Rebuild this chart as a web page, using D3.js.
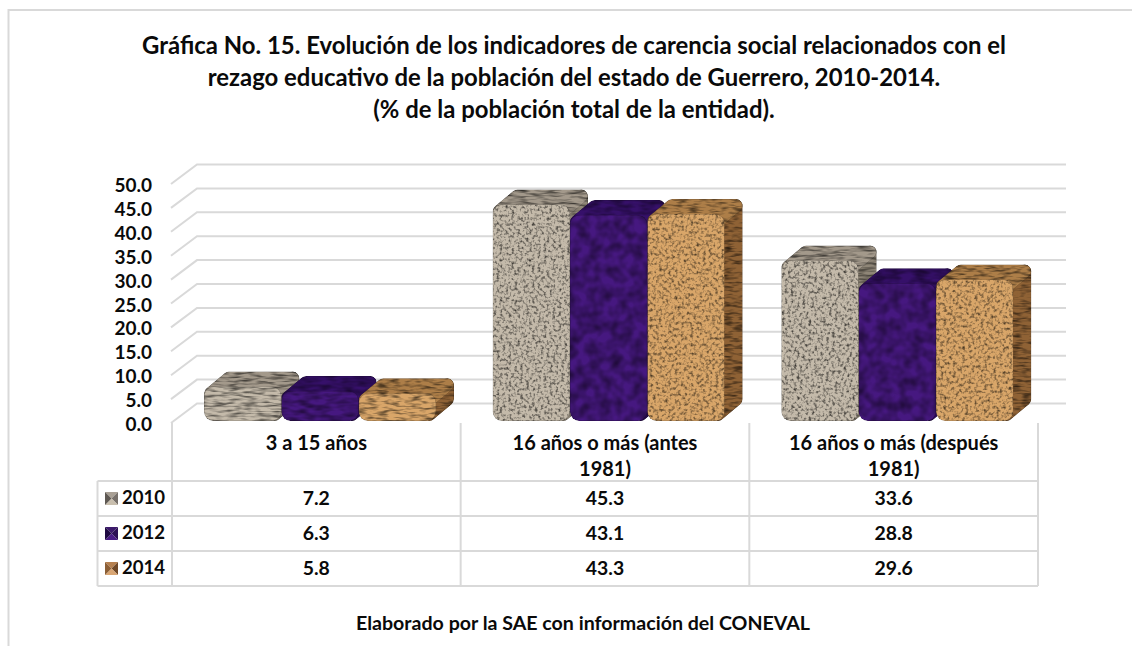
<!DOCTYPE html>
<html><head><meta charset="utf-8">
<script src="https://cdn.jsdelivr.net/npm/d3@7"></script>
<style>html,body{margin:0;padding:0;background:#fff}svg{display:block}text{font-family:Lato,"Open Sans",sans-serif;font-weight:700;fill:#0a0a0a}</style>
</head><body><div id="c"></div>
<script>
const titleLines=["Gráfica No. 15. Evolución de los indicadores de carencia social relacionados con el","rezago educativo de la población del estado de Guerrero, 2010-2014.","(% de la población total de la entidad)."];
const categories=["3 a 15 años","16 años o más (antes 1981)","16 años o más (después 1981)"];
const categoryLines=[["3 a 15 años"],["16 años o más (antes","1981)"],["16 años o más (después","1981)"]];
const seriesNames=["2010","2012","2014"];
const values2010=[7.2,45.3,33.6];
const values2012=[6.3,43.1,28.8];
const values2014=[5.8,43.3,29.6];
const yTicks=[0,5,10,15,20,25,30,35,40,45,50];
const footer="Elaborado por la SAE con información del CONEVAL";
const seriesValues=[values2010,values2012,values2014];
const frontColors=["#c4baaa","#461880","#d9a669"];
const topColors=["#a3998b","#36106a","#ad7e48"];
const sideColors=["#8f8677","#2c0b58","#8f6235"];
const keyShades=[["#a89f94","#77706a","#c9bfae","#5f5953"],["#3c1a6b","#2c1055","#4a1c86","#1f0a42"],["#b5804f","#6f4826","#d9a673","#8c5f36"]];

const W=1132,H=646,grid="#d9d9d9";
const svg=d3.select("#c").append("svg").attr("width",W).attr("height",H);
const defs=svg.append("defs");

function addFilter(id,freq,gain,off,seed,edge){
  const f=defs.append("filter").attr("id",id).attr("filterUnits","userSpaceOnUse").attr("x",0).attr("y",0).attr("width",W).attr("height",H).attr("color-interpolation-filters","sRGB");
  f.append("feTurbulence").attr("type","fractalNoise").attr("baseFrequency",freq).attr("numOctaves",2).attr("seed",seed).attr("result","n");
  f.append("feColorMatrix").attr("in","n").attr("type","matrix")
   .attr("values",`${gain} 0 0 0 ${off} ${gain} 0 0 0 ${off} ${gain} 0 0 0 ${off} 0 0 0 0 1`).attr("result","g0");
  f.append("feGaussianBlur").attr("in","g0").attr("stdDeviation",0.5).attr("result","g");
  f.append("feComposite").attr("in","SourceGraphic").attr("in2","g").attr("operator","arithmetic").attr("k1",1).attr("k2",0).attr("k3",0).attr("k4",0).attr("result","tex");
  f.append("feGaussianBlur").attr("in","SourceAlpha").attr("stdDeviation",edge).attr("result","bl");
  f.append("feColorMatrix").attr("in","bl").attr("type","matrix")
   .attr("values","0 0 0 1.35 0 0 0 0 1.35 0 0 0 0 1.35 0 0 0 0 0 1").attr("result","em");
  f.append("feComposite").attr("in","tex").attr("in2","em").attr("operator","arithmetic").attr("k1",1).attr("k2",0).attr("k3",0).attr("k4",0).attr("result","sh");
  f.append("feComposite").attr("in","sh").attr("in2","SourceAlpha").attr("operator","in");
}
addFilter("fGray","0.34",1.7,0.08,3,1.5);
addFilter("fPurple","0.09",0.9,0.38,8,1.5);
addFilter("fTan","0.32",1.5,0.18,5,1.5);
addFilter("sGray","0.07 0.4",1.5,0.12,11,1.5);
addFilter("sPurple","0.07 0.2",0.9,0.38,12,1.5);
addFilter("sTan","0.09 0.4",1.5,0.14,13,1.5);
const frontF=["fGray","fPurple","fTan"],sideF=["sGray","sPurple","sTan"];

// scales
const y=d3.scaleLinear().domain([0,50]).range([423,184]);
const x=d3.scaleBand().domain(categories).range([172,1038]);
const inner=d3.scaleBand().domain(seriesNames).range([32,264]);
const wallDx=26,wallDy=19.5,wallRight=1066;
const depthX=18,depthY=15,sink=2,rad=9;

// outer frame
svg.append("path").attr("d",`M${W},10H8.5V${H}`).attr("fill","none").attr("stroke",grid).attr("stroke-width",2);

// title
svg.append("g").selectAll("text").data(titleLines).join("text")
  .attr("x",574).attr("y",(d,i)=>54+i*32).attr("text-anchor","middle").attr("font-size",23.9).text(d=>d);

// walls
const gridG=svg.append("g").attr("fill","none").attr("stroke",grid).attr("stroke-width",2);
gridG.selectAll("path").data(yTicks).join("path")
  .attr("d",v=>`M${x.range()[0]-1},${y(v)}L${x.range()[0]-1+wallDx},${y(v)-wallDy}H${wallRight}`);

// axis labels
const ax=svg.append("g").attr("transform","translate(172,1.5)")
  .call(d3.axisLeft(y).tickValues(yTicks).tickFormat(d3.format(".1f")).tickSize(0).tickPadding(20));
ax.select(".domain").remove();
ax.selectAll("text").attr("font-size",19).style("font-family","Lato").style("font-weight",700).attr("fill","#0a0a0a");

// bars
const line=d3.line().curve(d3.curveLinearClosed);
const barG=svg.append("g");
categories.forEach((c,ci)=>{
  seriesNames.forEach((s,si)=>{
    const v=seriesValues[si][ci];
    const x0=x(c)+inner(s),x1=x0+inner.bandwidth();
    const yt=y(v)-sink,yb=y(0)-sink,p=rad*0.75;
    const g=barG.append("g");
    g.append("path").attr("d",line([[x1-p,yt+p],[x1+depthX-p,yt-depthY+p],[x1+depthX-p,yb-depthY-p],[x1-p,yb-p]]))
      .attr("fill",sideColors[si]).attr("stroke",sideColors[si]).attr("stroke-width",p*2).attr("stroke-linejoin","round").attr("filter",`url(#${sideF[si]})`);
    g.append("path").attr("d",line([[x0+p,yt+p],[x1-p,yt+p],[x1+depthX-p,yt-depthY+p],[x0+depthX+p,yt-depthY+p]]))
      .attr("fill",topColors[si]).attr("stroke",topColors[si]).attr("stroke-width",p*2).attr("stroke-linejoin","round").attr("filter",`url(#${sideF[si]})`);
    g.append("rect").attr("x",x0).attr("y",yt).attr("width",x1-x0).attr("height",yb-yt).attr("rx",rad).attr("ry",rad)
      .attr("fill",frontColors[si]).attr("filter",`url(#${ci===0?sideF[si]:frontF[si]})`);
  });
});

// data table
const rowLines=d3.scalePoint().domain(["head",...seriesNames]).range([481,586]);
const rowH=rowLines.step();
const tableLeft=97.5;
const tbl=svg.append("g").attr("fill","none").attr("stroke",grid).attr("stroke-width",2);
rowLines.domain().forEach(r=>tbl.append("path").attr("d",`M${tableLeft},${rowLines(r)}H${x.range()[1]}`));
tbl.append("path").attr("d",`M${tableLeft},481V586`);
[...categories.map(c=>x(c)),x.range()[1]].forEach(px=>tbl.append("path").attr("d",`M${px},423V586`));

categories.forEach((c,ci)=>{
  const cx=x(c)+x.bandwidth()/2;
  categoryLines[ci].forEach((t,i)=>svg.append("text").attr("x",cx).attr("y",450+i*26).attr("text-anchor","middle").attr("font-size",20).text(t));
  seriesNames.forEach((s,si)=>svg.append("text").attr("x",cx).attr("y",rowLines(s)-rowH+24).attr("text-anchor","middle").attr("font-size",19.4).text(d3.format(".1f")(seriesValues[si][ci])));
});
seriesNames.forEach((s,si)=>{
  const top=rowLines(s)-rowH;
  const ky=top+11,kx=105,k=13,m=[kx+k/2,ky+k/2];
  const corners=[[kx,ky],[kx+k,ky],[kx+k,ky+k],[kx,ky+k]];
  corners.forEach((pt,i)=>svg.append("path").attr("d",line([pt,corners[(i+1)%4],m])).attr("fill",keyShades[si][i]));
  svg.append("text").attr("x",122).attr("y",top+23).attr("font-size",18.6).text(s);
});

svg.append("text").attr("x",583).attr("y",630).attr("text-anchor","middle").attr("font-size",19.6).text(footer);
</script></body></html>
